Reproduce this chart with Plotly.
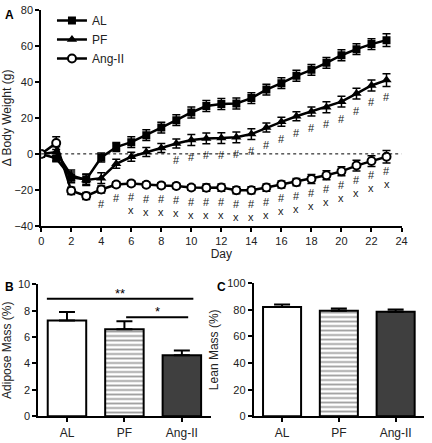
import plotly.graph_objects as go

# ---------------- data ----------------
days = list(range(0, 24))
al_mean = [0, -2.5, -13, -14.2, -2, 3.8, 6.5, 10.4, 14.6, 18.7, 23, 26.6, 27.7, 28, 31, 35.7,
           39.3, 43.4, 46.7, 50.6, 54.8, 58.2, 61, 63.2]
al_err = [0, 1.5, 3, 3, 2.5, 2.5, 3, 3, 3, 3, 3, 3, 3, 3, 3, 3, 3, 3, 3, 3, 3, 3, 3, 3.5]
pf_mean = [0, 1, -12, -14.5, -13.5, -5.5, -1.6, 1, 3.3, 5.8, 7.7, 8.6, 8.8, 9.2, 11, 14.6,
           17.8, 20.9, 23.6, 25.9, 29, 33.5, 38, 41]
pf_err = [0, 3, 3, 3, 3, 2.5, 2.5, 2.5, 2.5, 2.5, 3, 3, 3, 3, 3, 2.5, 2.5, 2.5, 2.5, 3, 3, 3, 3, 3.5]
ang_mean = [0, 6, -20.5, -23.4, -19.8, -17, -16.4, -17.1, -17.5, -17.8, -18.7, -18.8, -18.7,
            -20.2, -20.2, -18.7, -17, -15.7, -13.9, -11.9, -9.7, -6.5, -4, -1.6]
ang_err = [0, 3.5, 2, 2, 2, 1.5, 1.5, 1.5, 1.5, 1.5, 1.5, 2, 2, 2, 2, 2, 2, 2, 2.5, 2.5, 2.5, 3, 3, 3.5]

pf_hash_days = list(range(9, 24))          # '#' : PF vs AL
ang_hash_days = list(range(4, 24))         # '#' : Ang-II vs AL
ang_x_days = list(range(6, 24))            # 'x' : Ang-II vs PF

groups = ["AL", "PF", "Ang-II"]
adipose = [7.25, 6.59, 4.62]
adipose_err = [0.65, 0.6, 0.37]
lean = [82.2, 79.3, 78.6]
lean_err = [1.9, 1.7, 1.6]

FONT = "Arial, Liberation Sans, Helvetica, sans-serif"
W, H = 432, 443


def px_x(p):
    return p / W


def px_y(p):
    return 1 - p / H


fig = go.Figure()

# ---------------- panel A ----------------
fig.add_trace(go.Scatter(
    x=days, y=al_mean, name="AL", mode="lines+markers",
    line=dict(color="black", width=2.5),
    marker=dict(symbol="square", size=8, color="black"),
    error_y=dict(type="data", array=al_err, color="black", thickness=1.5, width=4),
    xaxis="x", yaxis="y"))
fig.add_trace(go.Scatter(
    x=days, y=pf_mean, name="PF", mode="lines+markers",
    line=dict(color="black", width=2.5),
    marker=dict(symbol="triangle-up", size=9, color="black"),
    error_y=dict(type="data", array=pf_err, color="black", thickness=1.5, width=4),
    xaxis="x", yaxis="y"))
fig.add_trace(go.Scatter(
    x=days, y=ang_mean, name="Ang-II", mode="lines+markers",
    line=dict(color="black", width=2.5),
    marker=dict(symbol="circle", size=8, color="white", line=dict(color="black", width=2)),
    error_y=dict(type="data", array=ang_err, color="black", thickness=1.5, width=4),
    xaxis="x", yaxis="y"))

annotations = []
for d in pf_hash_days:
    annotations.append(dict(x=d, y=pf_mean[d], xref="x", yref="y", text="#", showarrow=False,
                            yshift=-17, font=dict(family=FONT, size=11, color="#222")))
for d in ang_hash_days:
    annotations.append(dict(x=d, y=ang_mean[d], xref="x", yref="y", text="#", showarrow=False,
                            yshift=-14, font=dict(family=FONT, size=11, color="#222")))
for d in ang_x_days:
    annotations.append(dict(x=d, y=ang_mean[d], xref="x", yref="y", text="x", showarrow=False,
                            yshift=-27, font=dict(family=FONT, size=11, color="#222")))

# ---------------- panel B ----------------
bar_line = dict(color="black", width=2)
bar_pattern = dict(shape=["", "-", ""], fgcolor="black", bgcolor="white", size=4.5, solidity=0.4)
fig.add_trace(go.Bar(
    x=groups, y=adipose, xaxis="x2", yaxis="y2", width=0.67, showlegend=False,
    marker=dict(color=["white", "white", "#3f3f3f"], line=bar_line, pattern=bar_pattern),
    error_y=dict(type="data", array=adipose_err, arrayminus=[0, 0, 0], symmetric=False,
                 color="black", thickness=2, width=8)))

# ---------------- panel C ----------------
fig.add_trace(go.Bar(
    x=groups, y=lean, xaxis="x3", yaxis="y3", width=0.67, showlegend=False,
    marker=dict(color=["white", "white", "#3f3f3f"], line=bar_line, pattern=bar_pattern),
    error_y=dict(type="data", array=lean_err, arrayminus=[0, 0, 0], symmetric=False,
                 color="black", thickness=2, width=8)))

shapes = [
    dict(type="line", xref="x", yref="y", x0=0, x1=24, y0=0, y1=0,
         line=dict(color="black", width=1, dash="dot")),
    dict(type="line", xref="x2", yref="y2", x0=-0.35, x1=2.2, y0=8.9, y1=8.9,
         line=dict(color="black", width=2)),
    dict(type="line", xref="x2", yref="y2", x0=1.03, x1=2.11, y0=7.5, y1=7.5,
         line=dict(color="black", width=2)),
]
annotations += [
    dict(x=0.925, y=8.9, xref="x2", yref="y2", text="**", showarrow=False, yanchor="bottom",
         yshift=-4, font=dict(family=FONT, size=13, color="black")),
    dict(x=1.57, y=7.5, xref="x2", yref="y2", text="*", showarrow=False, yanchor="bottom",
         yshift=-4, font=dict(family=FONT, size=13, color="black")),
    dict(x=px_x(0), y=px_y(0), xref="paper", yref="paper", text="<b>A</b>", showarrow=False,
         xanchor="left", yanchor="top", font=dict(family=FONT, size=12, color="black")),
    dict(x=px_x(0), y=px_y(280), xref="paper", yref="paper", text="<b>B</b>", showarrow=False,
         xanchor="left", yanchor="top", font=dict(family=FONT, size=12, color="black")),
    dict(x=px_x(216), y=px_y(280), xref="paper", yref="paper", text="<b>C</b>", showarrow=False,
         xanchor="left", yanchor="top", font=dict(family=FONT, size=12, color="black")),
]

axis_common = dict(showline=True, linecolor="black", linewidth=1.8, ticks="outside",
                   ticklen=4, tickwidth=1.5, tickcolor="black", showgrid=False, zeroline=False,
                   tickfont=dict(family=FONT, size=11, color="#222"))

fig.update_layout(
    width=W, height=H, margin=dict(l=0, r=0, t=0, b=0),
    paper_bgcolor="white", plot_bgcolor="white",
    font=dict(family=FONT, size=11, color="#222"),
    showlegend=True,
    legend=dict(x=px_x(50), y=px_y(0), xanchor="left", yanchor="top",
                bgcolor="rgba(0,0,0,0)", font=dict(family=FONT, size=12, color="#222"),
                tracegroupgap=0, itemwidth=30),
    xaxis=dict(domain=[px_x(39), px_x(407)], range=[0, 24], tickvals=list(range(0, 25, 2)),
               anchor="y", title=dict(text="Day", font=dict(family=FONT, size=12), standoff=4),
               **axis_common),
    yaxis=dict(domain=[px_y(226), px_y(4)], range=[-40, 80], tickvals=list(range(-40, 81, 20)),
               anchor="x", title=dict(text="Δ Body Weight (g)", font=dict(family=FONT, size=12),
                                      standoff=6),
               **axis_common),
    xaxis2=dict(domain=[px_x(36), px_x(212)], range=[-0.5, 2.5], anchor="y2",
                **{**axis_common, "tickfont": dict(family=FONT, size=12, color="#222")}),
    yaxis2=dict(domain=[px_y(421.7), px_y(286)], range=[0, 10], tickvals=[0, 2, 4, 6, 8, 10],
                anchor="x2", title=dict(text="Adipose Mass (%)", font=dict(family=FONT, size=12),
                                        standoff=6),
                **axis_common),
    xaxis3=dict(domain=[px_x(256), px_x(430)], range=[-0.5, 2.5], anchor="y3",
                **{**axis_common, "tickfont": dict(family=FONT, size=12, color="#222")}),
    yaxis3=dict(domain=[px_y(421.7), px_y(285)], range=[0, 100],
                tickvals=[0, 20, 40, 60, 80, 100], anchor="x3",
                title=dict(text="Lean Mass (%)", font=dict(family=FONT, size=12), standoff=6),
                **axis_common),
    shapes=shapes, annotations=annotations,
)

fig.write_html("out.html", config={"displayModeBar": False},
               post_script="document.body.style.margin='0';document.body.style.overflow='hidden';")
